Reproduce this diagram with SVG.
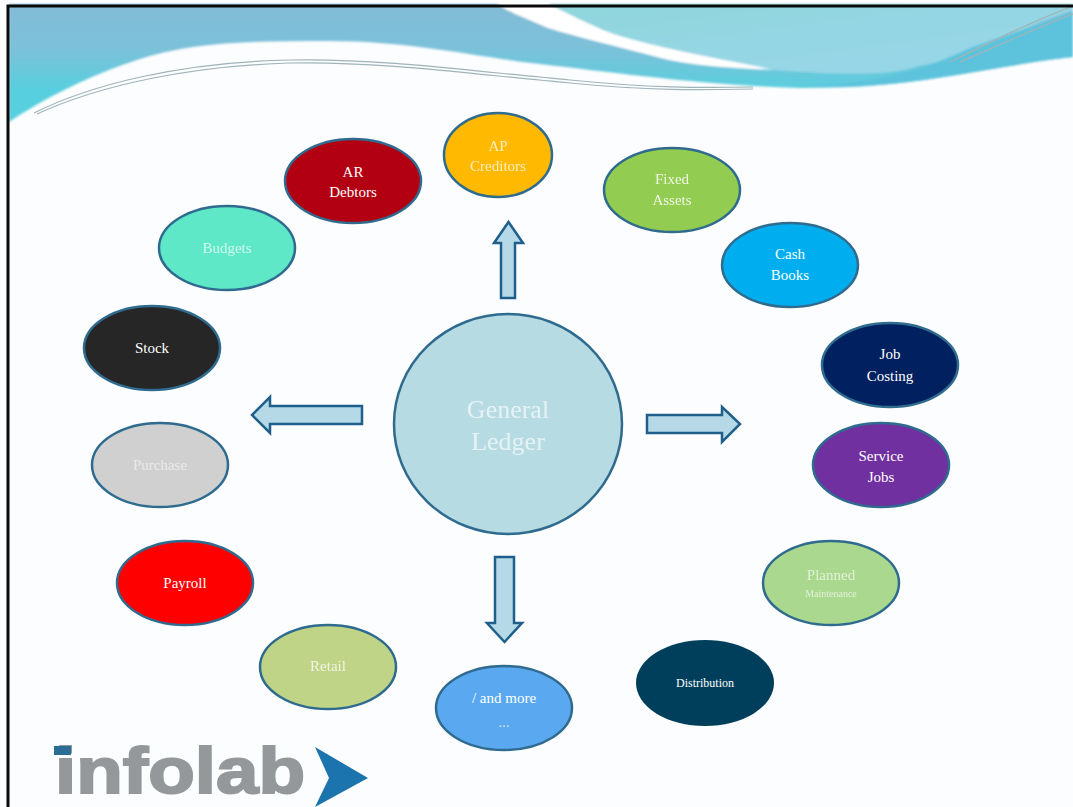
<svg xmlns="http://www.w3.org/2000/svg" width="1073" height="807" viewBox="0 0 1073 807">
<defs>
<linearGradient id="bandL" gradientUnits="userSpaceOnUse" x1="0" y1="10" x2="0" y2="90"><stop offset="0" stop-color="#82bcd6"/><stop offset="0.5" stop-color="#7bc1da"/><stop offset="1" stop-color="#58cfde"/></linearGradient>
<linearGradient id="bandR" x1="0" y1="0" x2="1" y2="1"><stop offset="0" stop-color="#8fd6dc"/><stop offset="1" stop-color="#9ad6ea"/></linearGradient>
<filter id="soft" x="-2%" y="-5%" width="104%" height="110%"><feGaussianBlur stdDeviation="0.9"/></filter>
</defs>
<style>
.n{stroke:#2f6b8f;stroke-width:2.5}
.t{font-family:"Liberation Serif","Times New Roman",serif;font-size:15px;text-anchor:middle;fill:#fff}
.a{fill:#b5d9e6;stroke:#1f5f8b;stroke-width:2.5;stroke-linejoin:miter}
.sw{fill:none;stroke:#9fb4b8;stroke-width:1.2}
</style>
<rect width="1073" height="807" fill="#fcfdfe"/>
<g id="header">
<g filter="url(#soft)">
<path d="M9 4H1073V57C1010 64 950 78 890 84C860 87 830 88 800 88C700 85 610 72 540 64C470 56 410 41 329 41C250 41 190 42 137 60C90 75 45 98 9 122Z" fill="url(#bandL)"/>
<path d="M548 4H1073V10C1020 28 960 60 918 66C895 75 850 76 774 70C730 60 650 48 603 30C580 20 565 12 548 4Z" fill="url(#bandR)"/>
<path d="M497 4H548C565 12 580 20 603 30C650 48 730 60 774 70C730 68 690 66 657 57C620 47 580 38 548 28C530 20 512 14 497 4Z" fill="#fff"/>
<path d="M808 86C870 84 925 70 970 48C1010 34 1045 22 1073 12V57C1010 64 950 78 890 84C860 87 830 88 808 86Z" fill="#5dc3dc"/>
</g>
<path class="sw" d="M34 113C90 85 180 62 290 60C380 58 480 72 570 80C650 88 700 88 753 87"/>
<path class="sw" d="M37 114C100 85 190 66 290 63C380 61 480 75 570 83C650 91 700 90 753 89"/>
<path class="sw" d="M950 62C990 42 1035 20 1073 6"/>
<path class="sw" d="M960 62C1000 45 1040 26 1073 14"/>
</g>
<g id="connectors">
<path class="a" d="M501 298V243H494L508.500 222L523 243H515V298Z"/>
<path class="a" d="M362 406H270V397L252 415L270 433V424H362Z"/>
<path class="a" d="M647 415H722V407L740 424L722 442V433H647Z"/>
<path class="a" d="M495 557H514V623H522L504.500 642L487 623H495Z"/>
</g>
<g id="general-ledger"><ellipse class="n" cx="508" cy="424" rx="114" ry="110" fill="#b7dbe3"/><text class="t" x="508" y="418" style="font-size:26px;opacity:.65">General</text><text class="t" x="508" y="450" style="font-size:26px;opacity:.65">Ledger</text></g>
<g id="ar-debtors"><ellipse class="n" cx="353" cy="181" rx="68" ry="42" fill="#b20012"/><text class="t" x="353" y="177">AR</text><text class="t" x="353" y="197">Debtors</text></g>
<g id="ap-creditors"><ellipse class="n" cx="498" cy="155" rx="54" ry="42" fill="#ffb900"/><text class="t" x="498" y="151" opacity=".75">AP</text><text class="t" x="498" y="171" opacity=".75">Creditors</text></g>
<g id="fixed-assets"><ellipse class="n" cx="672" cy="190" rx="68" ry="42" fill="#92cc50"/><text class="t" x="672" y="184" opacity=".85">Fixed</text><text class="t" x="672" y="205" opacity=".85">Assets</text></g>
<g id="cash-books"><ellipse class="n" cx="790" cy="265" rx="68" ry="42" fill="#00aeef"/><text class="t" x="790" y="259">Cash</text><text class="t" x="790" y="280">Books</text></g>
<g id="job-costing"><ellipse class="n" cx="890" cy="365" rx="68" ry="42" fill="#00205f"/><text class="t" x="890" y="359">Job</text><text class="t" x="890" y="381">Costing</text></g>
<g id="service-jobs"><ellipse class="n" cx="881" cy="465" rx="68" ry="42" fill="#7030a0"/><text class="t" x="881" y="461">Service</text><text class="t" x="881" y="482">Jobs</text></g>
<g id="planned-maintenance"><ellipse class="n" cx="831" cy="583" rx="68" ry="42" fill="#a9d88e"/><text class="t" x="831" y="580" opacity=".65">Planned</text><text class="t" x="831" y="597" style="font-size:10px" opacity=".65">Maintenance</text></g>
<g id="distribution"><ellipse cx="705" cy="683" rx="69" ry="43" fill="#003f5c"/><text class="t" x="705" y="687" style="font-size:12px">Distribution</text></g>
<g id="and-more"><ellipse class="n" cx="504" cy="708" rx="68" ry="42" fill="#5aa9f0"/><text class="t" x="504" y="703">/ and more</text><text class="t" x="504" y="727" opacity=".7">...</text></g>
<g id="retail"><ellipse class="n" cx="328" cy="667" rx="68" ry="42" fill="#c0d488"/><text class="t" x="328" y="671" opacity=".75">Retail</text></g>
<g id="payroll"><ellipse class="n" cx="185" cy="583" rx="68" ry="42" fill="#fe0000"/><text class="t" x="185" y="588">Payroll</text></g>
<g id="purchase"><ellipse class="n" cx="160" cy="465" rx="68" ry="42" fill="#d0d0d0"/><text class="t" x="160" y="470" opacity=".55">Purchase</text></g>
<g id="stock"><ellipse class="n" cx="152" cy="348" rx="68" ry="42" fill="#262626"/><text class="t" x="152" y="353">Stock</text></g>
<g id="budgets"><ellipse class="n" cx="227" cy="248" rx="68" ry="42" fill="#5fe8c8"/><text class="t" x="227" y="253" opacity=".7">Budgets</text></g>
<g id="logo">
<text x="55" y="793" font-family="Liberation Sans,Arial,sans-serif" font-weight="700" font-size="64" textLength="250" lengthAdjust="spacingAndGlyphs" fill="#94989b" stroke="#94989b" stroke-width="2">infolab</text>
<rect x="54" y="746" width="17" height="9" fill="#2a6e96"/>
<path d="M315 747L368 778L315 807L329 778Z" fill="#1b74ad"/>
</g>
<path id="frame" d="M8 807V6H1073" fill="none" stroke="#0a0a0a" stroke-width="3"/>
</svg>
